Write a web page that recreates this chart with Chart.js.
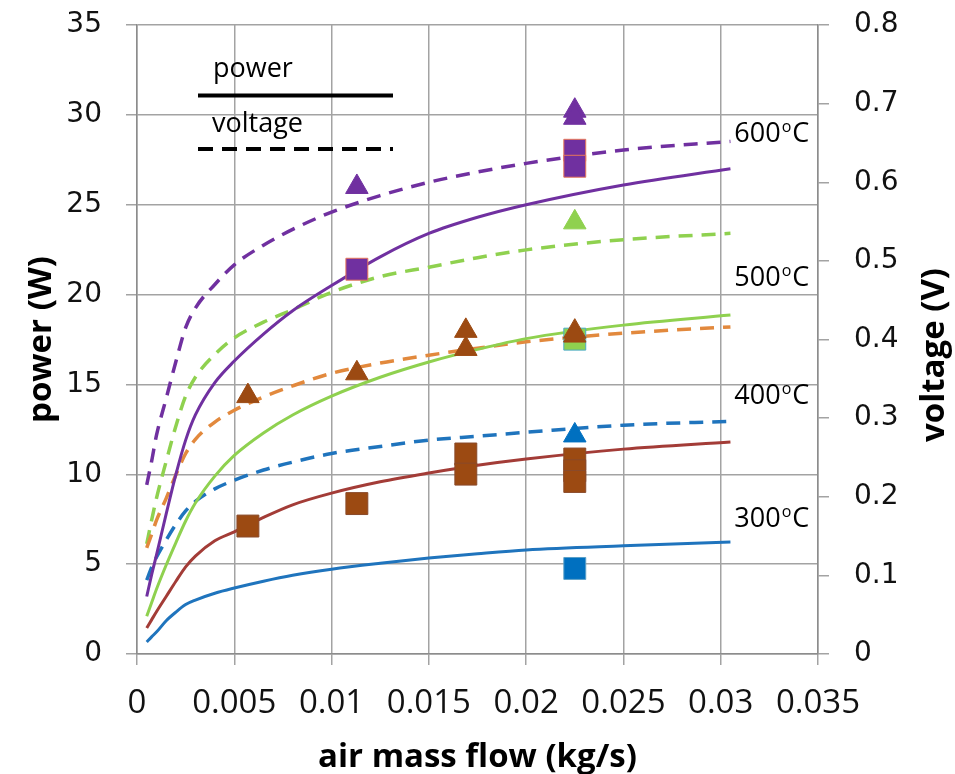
<!DOCTYPE html>
<html>
<head>
<meta charset="utf-8">
<script src="https://cdn.jsdelivr.net/npm/chart.js@4.4.1/dist/chart.umd.min.js"></script>
<style>
  html, body { margin: 0; padding: 0; background: #fff; }
  #wrap { width: 955px; height: 774px; }
</style>
</head>
<body>
<div id="wrap"><canvas id="myChart" width="955" height="774"></canvas></div>
<script>
// model curves (x = air mass flow in kg/s)
const flow = [0.0005, 0.00075, 0.001, 0.0015, 0.002, 0.0025, 0.003, 0.004, 0.005, 0.0065,
              0.008, 0.01, 0.0125, 0.015, 0.0175, 0.02, 0.025, 0.0305];

const power300 = [0.67, 0.95, 1.22, 1.85, 2.33, 2.75, 3.0, 3.38, 3.67, 4.05, 4.38, 4.72, 5.05, 5.34, 5.58, 5.79, 6.02, 6.23];
const power400 = [1.45, 1.9, 2.35, 3.2, 4.05, 4.85, 5.45, 6.3, 6.8, 7.6, 8.3, 8.95, 9.58, 10.07, 10.5, 10.85, 11.4, 11.8];
const power500 = [2.1, 2.85, 3.6, 4.95, 6.2, 7.4, 8.4, 9.9, 11.05, 12.3, 13.3, 14.35, 15.4, 16.25, 16.95, 17.55, 18.3, 18.86];
const power600 = [3.2, 4.4, 5.5, 7.8, 10.0, 11.9, 13.3, 15.1, 16.3, 17.8, 19.1, 20.5, 22.1, 23.4, 24.3, 25.0, 26.1, 27.0];

const voltage300 = [0.094, 0.11, 0.123, 0.145, 0.165, 0.182, 0.194, 0.21, 0.221, 0.234, 0.244, 0.255, 0.264, 0.272, 0.277, 0.282, 0.291, 0.296];
const voltage400 = [0.135, 0.152, 0.17, 0.198, 0.228, 0.255, 0.273, 0.295, 0.31, 0.327, 0.341, 0.357, 0.37, 0.38, 0.389, 0.397, 0.408, 0.416];
const voltage500 = [0.14, 0.17, 0.198, 0.245, 0.29, 0.328, 0.352, 0.381, 0.402, 0.422, 0.438, 0.46, 0.48, 0.492, 0.504, 0.514, 0.527, 0.535];
const voltage600 = [0.215, 0.245, 0.278, 0.325, 0.372, 0.415, 0.44, 0.47, 0.495, 0.52, 0.54, 0.562, 0.583, 0.6, 0.613, 0.624, 0.641, 0.652];

// measured points: squares = power (W), triangles = voltage (V)
const sq300Flow = [0.0225];
const sq300 = [4.76];
const tri300Flow = [0.0225];
const tri300 = [0.278];

const sq400Flow = [0.0057, 0.0113, 0.0169, 0.0169, 0.0225, 0.0225, 0.0225];
const sq400 = [7.12, 8.37, 11.13, 10.01, 10.85, 10.2, 9.6];
const tri400Flow = [0.0057, 0.0113, 0.0169, 0.0169, 0.0225, 0.0225];
const tri400 = [0.328, 0.357, 0.411, 0.388, 0.41, 0.405];

const sq500Flow = [0.0225];
const sq500 = [17.52];
const tri500Flow = [0.0225];
const tri500 = [0.549];

const sq600Flow = [0.0113, 0.0225, 0.0225];
const sq600 = [21.41, 28.03, 27.14];
const tri600Flow = [0.0113, 0.0225, 0.0225];
const tri600 = [0.594, 0.691, 0.682];

const xTickLabels = ['0', '0.005', '0.01', '0.015', '0.02', '0.025', '0.03', '0.035'];
const powerTickLabels = ['0', '5', '10', '15', '20', '25', '30', '35'];
const voltageTickLabels = ['0', '0.1', '0.2', '0.3', '0.4', '0.5', '0.6', '0.7', '0.8'];

const tempLabels = ['600', '500', '400', '300'];
const legendLabels = ['power', 'voltage'];

const BLUE = '#1F74BD';
const BROWN_LINE = '#A33C37';
const ORANGE = '#E2893D';
const GREEN = '#8FD14F';
const PURPLE = '#7030A0';
const BROWN_MARK = '#9C4A12';
const GRID = '#A3A3A3';

function zip(xs, ys) {
    return xs.map((x, i) => ({ x: x, y: ys[i] }));
}

function curve(values, color, axis, dashed) {
    return {
        data: zip(flow, values),
        yAxisID: axis,
        showLine: true,
        borderColor: color,
        borderWidth: dashed ? 3.5 : 3,
        borderDash: dashed ? [14, 9] : [],
        pointRadius: 0,
        cubicInterpolationMode: 'monotone',
        fill: false,
        order: 2,
    };
}

function marks(xs, ys, color, axis, style, border) {
    return {
        data: zip(xs, ys),
        yAxisID: axis,
        showLine: false,
        pointStyle: style,
        pointRadius: style === 'rect' ? 15.5 : 13,
        backgroundColor: color,
        borderColor: border || color,
        pointBorderWidth: 1,
        order: 1,
    };
}

// vertical axes: fixed width, and no extra top/bottom room for the end labels
function fixVertical(s) {
    s.width = 137;
    s.paddingTop = 0;
    s.paddingBottom = 0;
}

// legend + temperature labels + right title
const annotations = {
    id: 'annotations',
    afterDraw(chart) {
        const { ctx, chartArea: a, scales } = chart;
        ctx.save();

        ctx.fillStyle = '#000';
        ctx.strokeStyle = '#000';
        ctx.font = '27px "Open Sans"';
        ctx.textAlign = 'left';
        ctx.textBaseline = 'alphabetic';
        ctx.fillText(legendLabels[0], a.left + 76, a.top + 52);
        ctx.fillText(legendLabels[1], a.left + 75, a.top + 107);

        ctx.lineWidth = 4;
        ctx.beginPath();
        ctx.moveTo(a.left + 61, a.top + 70.5);
        ctx.lineTo(a.left + 256, a.top + 70.5);
        ctx.stroke();
        ctx.setLineDash([15, 9]);
        ctx.beginPath();
        ctx.moveTo(a.left + 61, a.top + 124);
        ctx.lineTo(a.left + 256, a.top + 124);
        ctx.stroke();
        ctx.setLineDash([]);

        // temperature labels, e.g. 600°C with a raised small o
        const at = [29.0, 20.97, 14.4, 7.56];
        const x0 = scales.x.getPixelForValue(0.0307);
        tempLabels.forEach((t, i) => {
            const y = scales.yP.getPixelForValue(at[i]) + 9;
            ctx.font = '27px "Open Sans"';
            ctx.fillText(t, x0, y);
            let x = x0 + ctx.measureText(t).width + 1;
            ctx.font = '16px "Open Sans"';
            ctx.fillText('o', x, y - 10);
            x += ctx.measureText('o').width + 1;
            ctx.font = '27px "Open Sans"';
            ctx.fillText('C', x, y);
        });

        // right axis title, reads bottom to top
        ctx.translate(935, 355);
        ctx.rotate(-Math.PI / 2);
        ctx.font = 'bold 33px "Open Sans"';
        ctx.textAlign = 'center';
        ctx.textBaseline = 'middle';
        ctx.fillText('voltage (V)', 0, 0);
        ctx.restore();
    }
};

const tickFontY = { family: 'DejaVu Sans', size: 28 };

const myChart = new Chart(document.getElementById('myChart'), {
    type: 'scatter',
    data: {
        datasets: [
            marks(tri400Flow, tri400, BROWN_MARK, 'yV', 'triangle'),
            marks(tri600Flow, tri600, PURPLE, 'yV', 'triangle'),
            marks(tri500Flow, tri500, GREEN, 'yV', 'triangle'),
            marks(tri300Flow, tri300, '#0070C0', 'yV', 'triangle'),
            marks(sq600Flow, sq600, PURPLE, 'yP', 'rect', '#E8775A'),
            marks(sq500Flow, sq500, GREEN, 'yP', 'rect', '#4BACC6'),
            marks(sq400Flow, sq400, BROWN_MARK, 'yP', 'rect', '#8A4A2A'),
            marks(sq300Flow, sq300, '#0070C0', 'yP', 'rect', '#5BA0C8'),
            curve(power300, BLUE, 'yP', false),
            curve(power400, BROWN_LINE, 'yP', false),
            curve(power500, GREEN, 'yP', false),
            curve(power600, PURPLE, 'yP', false),
            curve(voltage300, BLUE, 'yV', true),
            curve(voltage400, ORANGE, 'yV', true),
            curve(voltage500, GREEN, 'yV', true),
            curve(voltage600, PURPLE, 'yV', true),
        ],
    },
    options: {
        responsive: false,
        animation: false,
        layout: { padding: { top: 25, left: 0, right: 0, bottom: 0 } },
        plugins: {
            legend: { display: false },
            tooltip: { enabled: false },
        },
        scales: {
            x: {
                type: 'linear',
                position: 'bottom',
                min: 0,
                max: 0.035,
                afterFit: (s) => { s.height = 120; },
                border: { color: '#8C8C8C', width: 1.5 },
                grid: { color: GRID, lineWidth: 1.5, tickLength: 11 },
                ticks: {
                    stepSize: 0.005,
                    autoSkip: false,
                    maxRotation: 0,
                    padding: 19,
                    color: '#111',
                    font: { family: 'Open Sans', size: 33 },
                    callback: (v, i) => xTickLabels[i],
                },
                title: {
                    display: true,
                    text: 'air mass flow (kg/s)',
                    color: '#000',
                    font: { family: 'Open Sans', size: 33, weight: 'bold', lineHeight: 1 },
                    padding: { top: 0, bottom: 0 },
                },
            },
            yP: {
                type: 'linear',
                position: 'left',
                min: 0,
                max: 35,
                afterFit: fixVertical,
                border: { color: '#8C8C8C', width: 1.5 },
                grid: { color: GRID, lineWidth: 1.5, tickLength: 11 },
                ticks: {
                    stepSize: 5,
                    padding: 24,
                    color: '#111',
                    font: tickFontY,
                    callback: (v, i) => powerTickLabels[i],
                },
                title: {
                    display: true,
                    text: 'power (W)',
                    color: '#000',
                    font: { family: 'Open Sans', size: 33, weight: 'bold', lineHeight: 1 },
                    padding: { top: 25, bottom: 0 },
                },
            },
            yV: {
                type: 'linear',
                position: 'right',
                min: 0,
                max: 0.8,
                afterFit: fixVertical,
                border: { color: '#8C8C8C', width: 1.5 },
                grid: { drawOnChartArea: false, color: GRID, lineWidth: 1.5, tickLength: 11 },
                ticks: {
                    stepSize: 0.1,
                    padding: 25,
                    color: '#111',
                    font: tickFontY,
                    callback: (v, i) => voltageTickLabels[i],
                },
            },
        },
    },
    plugins: [annotations],
});
</script>
</body>
</html>
